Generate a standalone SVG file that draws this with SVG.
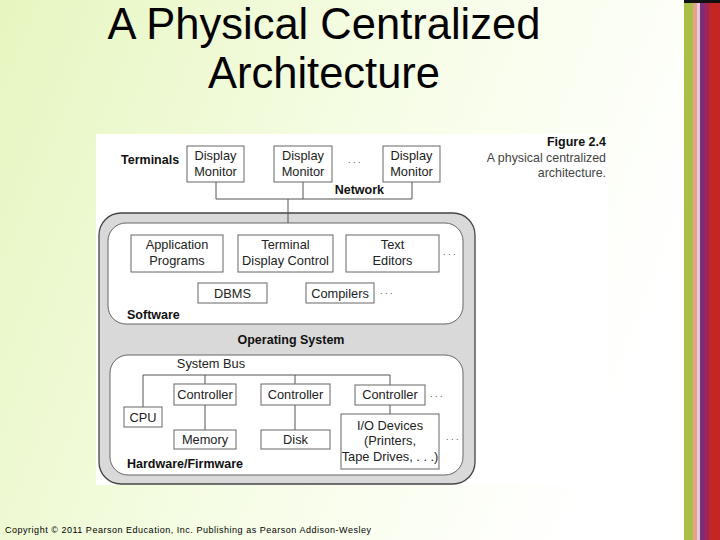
<svg xmlns="http://www.w3.org/2000/svg" width="720" height="540" viewBox="0 0 720 540">
<defs>
<linearGradient id="bg" x1="0" y1="0" x2="1" y2="0.3">
<stop offset="0" stop-color="#e6f6c0"/>
<stop offset="0.55" stop-color="#f6fde6"/>
<stop offset="1" stop-color="#ffffff"/>
</linearGradient>
<style>
.t{font-family:"Liberation Sans",Arial,Helvetica,sans-serif;font-size:12.8px;fill:#222;text-anchor:middle}
.b{font-family:"Liberation Sans",Arial,Helvetica,sans-serif;font-size:12.5px;font-weight:bold;fill:#111}
.box{fill:#fff;stroke:#666;stroke-width:1}
.ln{stroke:#555;stroke-width:1;fill:none}
.dots{font-family:"Liberation Sans",Arial,sans-serif;font-size:9px;fill:#444}
.title{font-family:"Liberation Sans",Arial,Helvetica,sans-serif;font-size:43.5px;fill:#000;text-anchor:middle}
</style>
</defs>
<rect x="0" y="0" width="720" height="540" fill="url(#bg)"/>
<g id="strip">
<rect x="684" y="0" width="36" height="540" fill="#c02a2a"/>
<rect x="684" y="0" width="9" height="540" fill="#a9bf45"/>
<rect x="693" y="0" width="4" height="540" fill="#e3a48e"/>
<rect x="697" y="0" width="3" height="540" fill="#e9c6d8"/>
<rect x="700" y="0" width="4" height="540" fill="#7a2e78"/>
<rect x="704" y="0" width="5" height="540" fill="#9a2660"/>
<rect x="709" y="0" width="11" height="540" fill="#c42626"/>
<rect x="684" y="0" width="36" height="3" fill="#111"/>
</g>
<g id="title">
<text class="title" x="324" y="39">A Physical Centralized</text>
<text class="title" x="324" y="88">Architecture</text>
</g>
<rect x="96" y="134" width="511" height="351" fill="#fff"/>
<g id="caption">
<text class="b" x="606" y="146" text-anchor="end">Figure 2.4</text>
<text class="t" x="606" y="162" style="text-anchor:end;fill:#444;font-size:12.4px">A physical centralized</text>
<text class="t" x="606" y="177" style="text-anchor:end;fill:#444;font-size:12.4px">architecture.</text>
</g>
<g id="os">
<rect x="99" y="213" width="376" height="271" rx="22" fill="#d9d9d9" stroke="#444" stroke-width="1.3"/>
<text class="b" x="291" y="344" text-anchor="middle">Operating System</text>
</g>
<g id="software">
<rect x="108" y="223" width="355" height="101" rx="18" class="box" stroke="#555"/>
<text class="b" x="127" y="319">Software</text>
</g>
<g id="hardware">
<rect x="110" y="355" width="353" height="120" rx="18" class="box" stroke="#555"/>
<text class="b" x="127" y="468">Hardware/Firmware</text>
<text class="t" x="211" y="368">System Bus</text>
</g>
<g id="connectors">
<path class="ln" d="M216 182V199H412V182M303 182V199M288 199V223"/>
<path class="ln" d="M143 407V375H390V385M205 375V384M295 375V384M205 405V430M295 405V430M390 405V414"/>
</g>
<g id="terminals">
<text class="b" x="121" y="164">Terminals</text>
<text class="b" x="384" y="194" text-anchor="end">Network</text>
<text class="dots" x="348" y="163">. . .</text>
</g>
<g id="dm1"><rect class="box" x="187" y="146" width="57" height="36"/><text class="t" x="215.5" y="160">Display</text><text class="t" x="215.5" y="176">Monitor</text></g>
<g id="dm2"><rect class="box" x="274" y="146" width="58" height="36"/><text class="t" x="303" y="160">Display</text><text class="t" x="303" y="176">Monitor</text></g>
<g id="dm3"><rect class="box" x="383" y="146" width="57" height="36"/><text class="t" x="411.5" y="160">Display</text><text class="t" x="411.5" y="176">Monitor</text></g>
<g id="app"><rect class="box" x="131" y="235" width="92" height="37"/><text class="t" x="177" y="249">Application</text><text class="t" x="177" y="265">Programs</text></g>
<g id="tdc"><rect class="box" x="238" y="235" width="95" height="37"/><text class="t" x="285.5" y="249">Terminal</text><text class="t" x="285.5" y="265">Display Control</text></g>
<g id="te"><rect class="box" x="346" y="235" width="93" height="37"/><text class="t" x="392.5" y="249">Text</text><text class="t" x="392.5" y="265">Editors</text></g>
<text class="dots" x="443" y="255">. . .</text>
<g id="dbms"><rect class="box" x="198" y="283" width="69" height="20"/><text class="t" x="232.5" y="298">DBMS</text></g>
<g id="compilers"><rect class="box" x="306" y="283" width="68" height="20"/><text class="t" x="340" y="298">Compilers</text></g>
<text class="dots" x="380" y="294">. . .</text>
<g id="cpu"><rect class="box" x="124" y="407" width="38" height="20"/><text class="t" x="143" y="422">CPU</text></g>
<g id="ctrl1"><rect class="box" x="174" y="384" width="62" height="21"/><text class="t" x="205" y="399">Controller</text></g>
<g id="ctrl2"><rect class="box" x="261" y="384" width="69" height="21"/><text class="t" x="295.5" y="399">Controller</text></g>
<g id="ctrl3"><rect class="box" x="355" y="385" width="70" height="20"/><text class="t" x="390" y="399">Controller</text></g>
<text class="dots" x="430" y="397">. . .</text>
<g id="memory"><rect class="box" x="174" y="430" width="62" height="19"/><text class="t" x="205" y="444">Memory</text></g>
<g id="disk"><rect class="box" x="261" y="430" width="69" height="19"/><text class="t" x="295.5" y="444">Disk</text></g>
<g id="io"><rect class="box" x="341" y="414" width="98" height="55"/><text class="t" x="390" y="430">I/O Devices</text><text class="t" x="390" y="445">(Printers,</text><text class="t" x="390" y="461">Tape Drives, . . .)</text></g>
<text class="dots" x="446" y="440">. . .</text>
<text x="5" y="533" font-family="Liberation Sans,Arial,sans-serif" font-size="9" fill="#000" textLength="366">Copyright © 2011 Pearson Education, Inc. Publishing as Pearson Addison-Wesley</text>
</svg>
